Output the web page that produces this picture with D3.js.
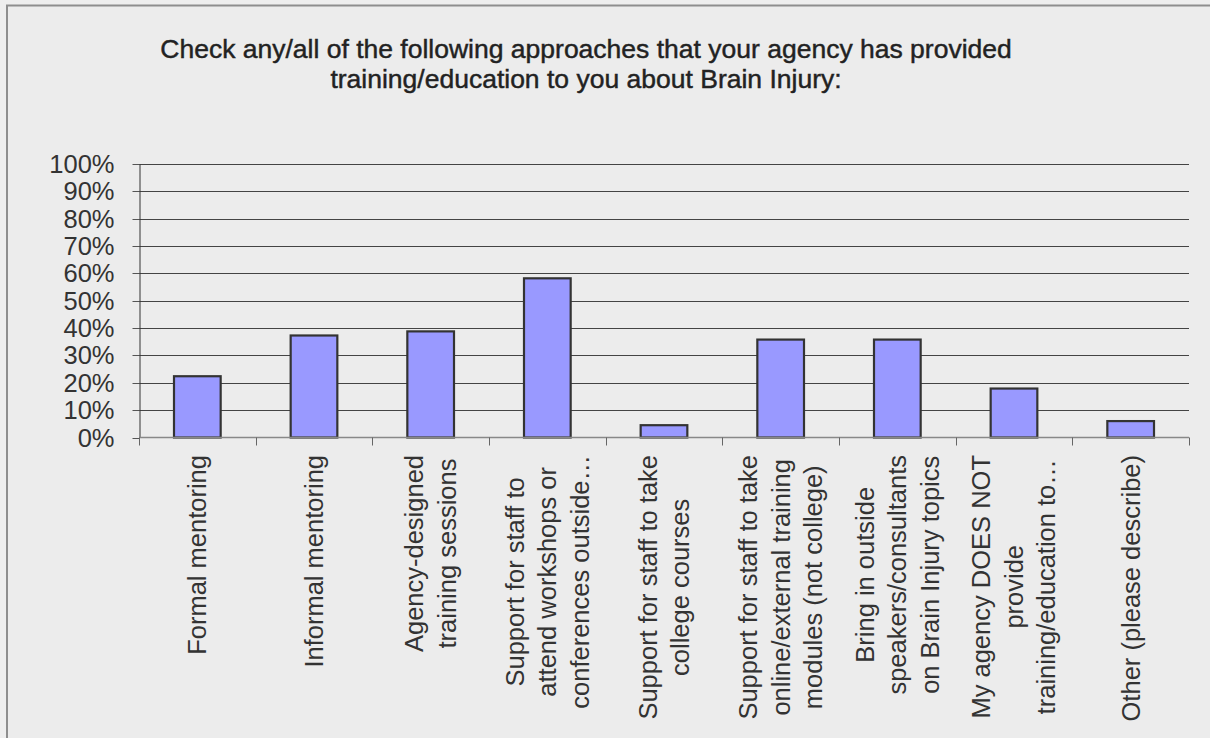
<!DOCTYPE html>
<html>
<head>
<meta charset="utf-8">
<script src="https://cdn.jsdelivr.net/npm/d3@7"></script>
<style>
  html, body { margin: 0; padding: 0; background: #eeeeee; }
  svg { display: block; }
  text { font-family: "Liberation Sans", Arial, sans-serif; }
</style>
</head>
<body>
<svg id="chart" width="1210" height="738"></svg>
<script>
// Survey responses: share of respondents selecting each approach
const categories = [
  "Formal mentoring",
  "Informal mentoring",
  "Agency-designed training sessions",
  "Support for staff to attend workshops or conferences outside…",
  "Support for staff to take college courses",
  "Support for staff to take online/external training modules (not college)",
  "Bring in outside speakers/consultants on Brain Injury topics",
  "My agency DOES NOT provide training/education to…",
  "Other (please describe)"
];
// wrapped lines of each category label
const categoryLines = [
  ["Formal mentoring"],
  ["Informal mentoring"],
  ["Agency-designed", "training sessions"],
  ["Support for staff to", "attend workshops or", "conferences outside…"],
  ["Support for staff to take", "college courses"],
  ["Support for staff to take", "online/external training", "modules (not college)"],
  ["Bring in outside", "speakers/consultants", "on Brain Injury topics"],
  ["My agency DOES NOT", "provide", "training/education to…"],
  ["Other (please describe)"]
];
const values = [0.224, 0.373, 0.388, 0.582, 0.045, 0.358, 0.358, 0.179, 0.060];
const yTicks = [0, 0.1, 0.2, 0.3, 0.4, 0.5, 0.6, 0.7, 0.8, 0.9, 1.0];
const titleLines = [
  "Check any/all of the following approaches that your agency has provided",
  "training/education to you about Brain Injury:"
];

const svg = d3.select("#chart");
const W = 1210, H = 738;
const plot = { left: 139, right: 1189, top: 164, bottom: 437.5 };

// chart frame
svg.append("rect").attr("x", 7).attr("y", 6).attr("width", W - 7).attr("height", H - 6)
  .attr("fill", "#ececec");
svg.append("path")
  .attr("d", `M7,${H} V5.5 H${W}`)
  .attr("fill", "none").attr("stroke", "#8e8e8e").attr("stroke-width", 2);

// title
svg.append("g").selectAll("text").data(titleLines).join("text")
  .attr("x", 586).attr("y", (d, i) => 57.5 + i * 30.5)
  .attr("text-anchor", "middle")
  .attr("font-size", 26.5).attr("fill", "#222")
  .attr("stroke", "#222").attr("stroke-width", 0.45)
  .text(d => d);

const x = d3.scaleBand().domain(categories)
  .range([plot.left, plot.right]).paddingInner(0.6).paddingOuter(0.3);
const y = d3.scaleLinear().domain([0, 1]).range([plot.bottom, plot.top]);

// horizontal gridlines
svg.append("g").selectAll("line").data(yTicks.filter(d => d > 0)).join("line")
  .attr("x1", plot.left).attr("x2", plot.right)
  .attr("y1", d => Math.round(y(d)) + 0.5).attr("y2", d => Math.round(y(d)) + 0.5)
  .attr("stroke", "#444").attr("stroke-width", 1);

// y axis
const yAxis = svg.append("g").attr("transform", `translate(${plot.left + 0.5},0)`)
  .call(d3.axisLeft(y).tickValues(yTicks).tickFormat(d3.format(".0%"))
    .tickSize(7).tickPadding(18).tickSizeOuter(0));
yAxis.select(".domain").attr("stroke", "#333");
yAxis.selectAll(".tick line").attr("stroke", "#555");
yAxis.selectAll(".tick text")
  .attr("font-size", 25.5).attr("fill", "#333")
  .attr("font-family", "'Liberation Sans', Arial, sans-serif");
yAxis.selectAll(".tick").attr("transform", d => `translate(0,${Math.round(y(d)) + 0.5})`);

// bars
svg.append("g").selectAll("rect").data(values).join("rect")
  .attr("x", (d, i) => x(categories[i]))
  .attr("y", d => y(d))
  .attr("width", x.bandwidth())
  .attr("height", d => y(0) - y(d))
  .attr("fill", "#9999ff").attr("stroke", "#333").attr("stroke-width", 2.2);

// x axis baseline and category boundary ticks
const step = x.step();
const x0 = x(categories[0]) - step * x.paddingOuter();
const bounds = d3.range(categories.length + 1).map(i => x0 + i * step);
svg.append("line")
  .attr("x1", plot.left).attr("x2", plot.right)
  .attr("y1", y(0)).attr("y2", y(0))
  .attr("stroke", "#888").attr("stroke-width", 1.5);
svg.append("g").selectAll("line").data(bounds).join("line")
  .attr("x1", d => Math.round(d) + 0.5).attr("x2", d => Math.round(d) + 0.5)
  .attr("y1", y(0)).attr("y2", y(0) + 8)
  .attr("stroke", "#666").attr("stroke-width", 1);

// rotated category labels; each line centred, block ending just below the axis
const lineH = 32.5;
const labels = svg.append("g").selectAll("g").data(categoryLines).join("g")
  .attr("transform", (d, i) => `translate(${x(categories[i]) + x.bandwidth() / 2},455) rotate(-90)`);
labels.each(function(lines) {
  const g = d3.select(this);
  const texts = g.selectAll("text").data(lines).join("text")
    .attr("font-size", 25.5).attr("fill", "#333")
    .attr("text-anchor", "middle")
    .attr("y", (d, i) => (i - (lines.length - 1) / 2) * lineH)
    .attr("dy", "0.35em")
    .text(d => d);
  let maxW = 0;
  texts.each(function() { maxW = Math.max(maxW, this.getComputedTextLength()); });
  texts.attr("x", -maxW / 2);
});
</script>
</body>
</html>
